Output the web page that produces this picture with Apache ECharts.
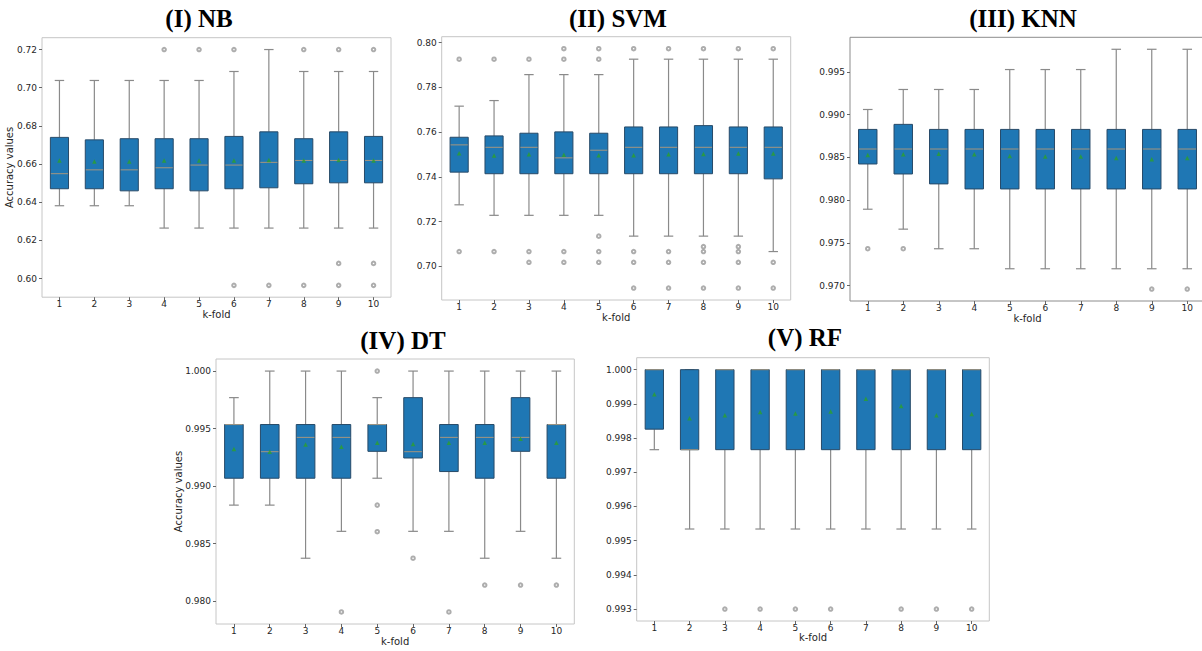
<!DOCTYPE html>
<html>
<head>
<meta charset="utf-8">
<title>k-fold accuracy box plots</title>
<script src="https://cdn.jsdelivr.net/npm/echarts@6/dist/echarts.min.js"></script>
<style>
  html, body { margin: 0; padding: 0; background: #ffffff; }
  #chart { width: 1202px; height: 651px; }
</style>
</head>
<body>
<div id="chart"></div>
<script>
// ---- shared categories ----
const folds = ['1', '2', '3', '4', '5', '6', '7', '8', '9', '10'];

// ---- (I) NB ----
const nbLow  = [0.6382, 0.6382, 0.6382, 0.6265, 0.6265, 0.6265, 0.6265, 0.6265, 0.6265, 0.6265];
const nbQ1   = [0.6471, 0.6471, 0.6460, 0.6471, 0.6460, 0.6471, 0.6476, 0.6497, 0.6502, 0.6502];
const nbMed  = [0.6550, 0.6570, 0.6570, 0.6581, 0.6595, 0.6595, 0.6609, 0.6619, 0.6619, 0.6619];
const nbQ3   = [0.6740, 0.6727, 0.6733, 0.6733, 0.6733, 0.6745, 0.6769, 0.6733, 0.6769, 0.6745];
const nbHigh = [0.7038, 0.7038, 0.7038, 0.7038, 0.7038, 0.7085, 0.7200, 0.7085, 0.7085, 0.7085];
const nbMean = [0.6619, 0.6614, 0.6614, 0.6619, 0.6619, 0.6619, 0.6621, 0.6619, 0.6621, 0.6619];
const nbOut  = [[4, 0.72], [5, 0.72], [6, 0.72], [6, 0.5965], [7, 0.5965], [8, 0.72], [8, 0.5965],
                [9, 0.72], [9, 0.608], [9, 0.5965], [10, 0.72], [10, 0.608], [10, 0.5965]];
const nbTicks = [0.60, 0.62, 0.64, 0.66, 0.68, 0.70, 0.72];

// ---- (II) SVM ----
const svmLow  = [0.7275, 0.7228, 0.7228, 0.7228, 0.7228, 0.7135, 0.7135, 0.7135, 0.7135, 0.7066];
const svmQ1   = [0.7421, 0.7414, 0.7414, 0.7414, 0.7414, 0.7414, 0.7414, 0.7414, 0.7414, 0.7391];
const svmMed  = [0.7543, 0.7532, 0.7532, 0.7485, 0.7519, 0.7532, 0.7532, 0.7532, 0.7532, 0.7532];
const svmQ3   = [0.7577, 0.7583, 0.7595, 0.7601, 0.7595, 0.7623, 0.7623, 0.7629, 0.7623, 0.7623];
const svmHigh = [0.7716, 0.7741, 0.7857, 0.7857, 0.7857, 0.7926, 0.7926, 0.7926, 0.7926, 0.7926];
const svmMean = [0.7506, 0.7495, 0.7501, 0.7499, 0.7497, 0.7497, 0.7501, 0.7502, 0.7504, 0.7504];
const svmOut  = [[1, 0.7926], [1, 0.7066],
                 [2, 0.7926], [2, 0.7066],
                 [3, 0.7926], [3, 0.7066], [3, 0.7018],
                 [4, 0.7973], [4, 0.7926], [4, 0.7066], [4, 0.7018],
                 [5, 0.7973], [5, 0.7926], [5, 0.7135], [5, 0.7066], [5, 0.7018],
                 [6, 0.7973], [6, 0.7066], [6, 0.7018], [6, 0.6903],
                 [7, 0.7973], [7, 0.7066], [7, 0.7018], [7, 0.6903],
                 [8, 0.7973], [8, 0.7088], [8, 0.7066], [8, 0.7018], [8, 0.6903],
                 [9, 0.7973], [9, 0.7088], [9, 0.7066], [9, 0.7018], [9, 0.6903],
                 [10, 0.7973], [10, 0.7018], [10, 0.6903]];
const svmTicks = [0.70, 0.72, 0.74, 0.76, 0.78, 0.80];

// ---- (III) KNN ----
const knnLow  = [0.97894, 0.97661, 0.97432, 0.97432, 0.97198, 0.97198, 0.97198, 0.97198, 0.97198, 0.97198];
const knnQ1   = [0.98423, 0.98306, 0.98190, 0.98131, 0.98131, 0.98131, 0.98131, 0.98131, 0.98131, 0.98131];
const knnMed  = [0.98598, 0.98598, 0.98598, 0.98598, 0.98598, 0.98598, 0.98598, 0.98598, 0.98598, 0.98598];
const knnQ3   = [0.98827, 0.98886, 0.98827, 0.98827, 0.98827, 0.98827, 0.98827, 0.98827, 0.98827, 0.98827];
const knnHigh = [0.99060, 0.99294, 0.99294, 0.99294, 0.99527, 0.99527, 0.99527, 0.99764, 0.99764, 0.99764];
const knnMean = [0.98528, 0.98536, 0.98544, 0.98536, 0.98516, 0.98509, 0.98509, 0.98493, 0.98477, 0.98493];
const knnOut  = [[1, 0.97432], [2, 0.97432], [9, 0.96961], [10, 0.96961]];
const knnTicks = [0.970, 0.975, 0.980, 0.985, 0.990, 0.995];

// ---- (IV) DT ----
const dtLow  = [0.98834, 0.98834, 0.98372, 0.98606, 0.99068, 0.98606, 0.98606, 0.98372, 0.98606, 0.98372];
const dtQ1   = [0.99068, 0.99068, 0.99068, 0.99068, 0.99302, 0.99244, 0.99126, 0.99068, 0.99302, 0.99068];
const dtMed  = [0.99535, 0.99299, 0.99423, 0.99423, 0.99535, 0.99299, 0.99423, 0.99423, 0.99423, 0.99535];
const dtQ3   = [0.99535, 0.99535, 0.99535, 0.99535, 0.99535, 0.99769, 0.99535, 0.99535, 0.99769, 0.99535];
const dtHigh = [0.99769, 1.00000, 1.00000, 1.00000, 0.99769, 1.00000, 1.00000, 1.00000, 1.00000, 1.00000];
const dtMean = [0.99322, 0.99299, 0.99362, 0.99342, 0.99377, 0.99365, 0.99377, 0.99377, 0.99411, 0.99377];
const dtOut  = [[4, 0.97905], [5, 1.0], [5, 0.98834], [5, 0.98603], [6, 0.98372],
                [7, 0.97905], [8, 0.98139], [9, 0.98139], [10, 0.98139]];
const dtTicks = [0.980, 0.985, 0.990, 0.995, 1.000];

// ---- (V) RF ----
const rfLow  = [0.99766, 0.99534, 0.99534, 0.99534, 0.99534, 0.99534, 0.99534, 0.99534, 0.99534, 0.99534];
const rfQ1   = [0.99826, 0.99766, 0.99766, 0.99766, 0.99766, 0.99766, 0.99766, 0.99766, 0.99766, 0.99766];
const rfMed  = [1.00000, 0.99766, 1.00000, 1.00000, 1.00000, 1.00000, 1.00000, 1.00000, 1.00000, 1.00000];
const rfQ3   = [1.00000, 1.00000, 1.00000, 1.00000, 1.00000, 1.00000, 1.00000, 1.00000, 1.00000, 1.00000];
const rfHigh = [1.00000, 1.00000, 1.00000, 1.00000, 1.00000, 1.00000, 1.00000, 1.00000, 1.00000, 1.00000];
const rfMean = [0.99928, 0.99858, 0.99867, 0.99876, 0.99872, 0.99878, 0.99915, 0.99894, 0.99867, 0.99870];
const rfOut  = [[3, 0.993], [4, 0.993], [5, 0.993], [6, 0.993], [8, 0.993], [9, 0.993], [10, 0.993]];
const rfTicks = [0.993, 0.994, 0.995, 0.996, 0.997, 0.998, 0.999, 1.000];

// ---- panel wiring: data sets plus where each panel sits ----
const panels = [
  { title: '(I) NB',    low: nbLow,  q1: nbQ1,  med: nbMed,  q3: nbQ3,  high: nbHigh,  mean: nbMean,  out: nbOut,  ticks: nbTicks,  digits: 2 },
  { title: '(II) SVM',  low: svmLow, q1: svmQ1, med: svmMed, q3: svmQ3, high: svmHigh, mean: svmMean, out: svmOut, ticks: svmTicks, digits: 2 },
  { title: '(III) KNN', low: knnLow, q1: knnQ1, med: knnMed, q3: knnQ3, high: knnHigh, mean: knnMean, out: knnOut, ticks: knnTicks, digits: 3 },
  { title: '(IV) DT',   low: dtLow,  q1: dtQ1,  med: dtMed,  q3: dtQ3,  high: dtHigh,  mean: dtMean,  out: dtOut,  ticks: dtTicks,  digits: 3 },
  { title: '(V) RF',    low: rfLow,  q1: rfQ1,  med: rfMed,  q3: rfQ3,  high: rfHigh,  mean: rfMean,  out: rfOut,  ticks: rfTicks,  digits: 3 }
];

const layout = [
  { box: [42, 37.7, 349, 259.5],    range: [0.5903, 0.7262],   titleAt: [199, 18],  yName: 'Accuracy values', yNameGap: 28, xNameGap: 12, frame: '#c6c6c6' },
  { box: [441.7, 36.7, 349, 263.3], range: [0.68495, 0.80265], titleAt: [618, 18],  yName: '',                yNameGap: 0,  xNameGap: 12, frame: '#c6c6c6' },
  { box: [850, 37.3, 355, 263.7],   range: [0.96821, 0.99904], titleAt: [1023, 18], yName: '',                yNameGap: 0,  xNameGap: 12, frame: '#8c8c8c' },
  { box: [216, 359, 358.3, 265],    range: [0.97800, 1.00105], titleAt: [403, 340], yName: 'Accuracy values', yNameGap: 33, xNameGap: 12, frame: '#c6c6c6' },
  { box: [636.7, 357.7, 352.6, 263.3], range: [0.99265, 1.00035], titleAt: [805, 337], yName: '',            yNameGap: 0,  xNameGap: 11, frame: '#c6c6c6' }
];

const BOX_FILL = '#1f77b4';
const BOX_EDGE = '#274a68';
const WHISKER = '#8a8a8a';
const MEDIAN = '#9a9383';
const MEAN = '#2ca02c';
const FLIER = '#999999';
const TEXT = '#262626';
const SANS = 'DejaVu Sans';

// Draws one box: whiskers, caps, box body and median line
function renderBox(params, api) {
  const i = api.value(0);
  const lo = api.coord([i, api.value(1)]);
  const q1 = api.coord([i, api.value(2)]);
  const md = api.coord([i, api.value(3)]);
  const q3 = api.coord([i, api.value(4)]);
  const hi = api.coord([i, api.value(5)]);
  const band = api.size([1, 0])[0];
  const bw = band * 0.52;
  const cw = band * 0.27;
  const x = lo[0];
  const wl = { stroke: WHISKER, lineWidth: 1.2 };
  return {
    type: 'group',
    children: [
      { type: 'line', shape: { x1: x, y1: q3[1], x2: x, y2: hi[1] }, style: wl },
      { type: 'line', shape: { x1: x, y1: q1[1], x2: x, y2: lo[1] }, style: wl },
      { type: 'line', shape: { x1: x - cw / 2, y1: hi[1], x2: x + cw / 2, y2: hi[1] }, style: wl },
      { type: 'line', shape: { x1: x - cw / 2, y1: lo[1], x2: x + cw / 2, y2: lo[1] }, style: wl },
      { type: 'rect', shape: { x: x - bw / 2, y: q3[1], width: bw, height: q1[1] - q3[1] },
        style: { fill: BOX_FILL, stroke: BOX_EDGE, lineWidth: 1 } },
      { type: 'line', shape: { x1: x - bw / 2 + 0.5, y1: md[1], x2: x + bw / 2 - 0.5, y2: md[1] },
        style: { stroke: MEDIAN, lineWidth: 1.1 } }
    ]
  };
}

const grids = [], xAxes = [], yAxes = [], series = [], graphics = [];

panels.forEach((p, k) => {
  const L = layout[k];
  grids.push({
    left: L.box[0], top: L.box[1], width: L.box[2], height: L.box[3],
    show: true, borderColor: L.frame, borderWidth: 1, backgroundColor: 'transparent',
    containLabel: false, outerBoundsMode: 'none'
  });
  xAxes.push({
    type: 'category', gridIndex: k, data: folds, boundaryGap: true,
    name: 'k-fold', nameLocation: 'middle', nameGap: L.xNameGap, nameMoveOverlap: false,
    nameTextStyle: { fontFamily: SANS, fontSize: 10, color: TEXT },
    axisLine: { show: false },
    axisTick: { show: true, alignWithLabel: true, length: 3, lineStyle: { color: '#666' } },
    axisLabel: { fontFamily: SANS, fontSize: 9, color: TEXT, margin: 2 },
    splitLine: { show: false }
  });
  yAxes.push({
    type: 'value', gridIndex: k, min: L.range[0], max: L.range[1],
    name: L.yName, nameLocation: 'middle', nameRotate: 90, nameGap: L.yNameGap, nameMoveOverlap: false,
    nameTextStyle: { fontFamily: SANS, fontSize: 10, color: TEXT },
    axisLine: { show: false },
    axisTick: { show: true, length: 3, customValues: p.ticks, lineStyle: { color: '#666' } },
    axisLabel: {
      customValues: p.ticks, fontFamily: SANS, fontSize: 9, color: TEXT, margin: 5,
      formatter: v => Number(v).toFixed(p.digits)
    },
    splitLine: { show: false }
  });
  series.push({
    type: 'custom', xAxisIndex: k, yAxisIndex: k, silent: true,
    renderItem: renderBox,
    encode: { x: 0, y: [1, 2, 3, 4, 5] },
    data: folds.map((f, i) => [i, p.low[i], p.q1[i], p.med[i], p.q3[i], p.high[i]]),
    z: 2
  });
  series.push({
    type: 'scatter', xAxisIndex: k, yAxisIndex: k, silent: true,
    symbol: 'emptyCircle', symbolSize: 3.5,
    itemStyle: { color: FLIER, borderColor: FLIER, borderWidth: 0.7 },
    data: p.out.map(([f, v]) => [f - 1, v]),
    z: 3
  });
  series.push({
    type: 'scatter', xAxisIndex: k, yAxisIndex: k, silent: true,
    symbol: 'triangle', symbolSize: 4.5,
    itemStyle: { color: MEAN },
    data: p.mean.map((v, i) => [i, v]),
    z: 4
  });
  graphics.push({
    type: 'text', x: L.titleAt[0], y: L.titleAt[1], silent: true,
    style: {
      text: p.title, fill: '#000', font: "bold 25px 'Liberation Serif', 'Times New Roman', serif",
      textAlign: 'center', textVerticalAlign: 'middle'
    }
  });
});

const chart = echarts.init(document.getElementById('chart'), null, { renderer: 'svg', width: 1202, height: 651 });
chart.setOption({
  animation: false,
  backgroundColor: '#ffffff',
  grid: grids,
  xAxis: xAxes,
  yAxis: yAxes,
  series: series,
  graphic: graphics
});
</script>
</body>
</html>
